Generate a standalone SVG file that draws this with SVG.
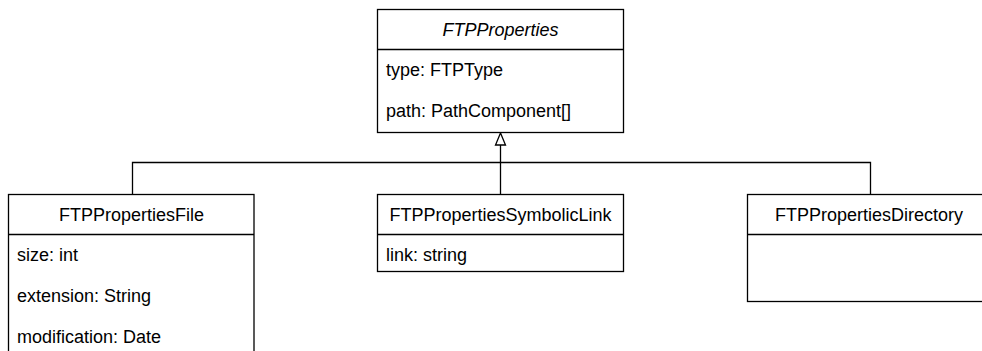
<svg xmlns="http://www.w3.org/2000/svg" width="982" height="351" viewBox="0 0 982 351">
  <style>
    .box { fill: #ffffff; stroke: #000000; stroke-width: 1.3; }
    .sep { stroke: #000000; stroke-width: 1.3; }
    .edge { fill: none; stroke: #000000; stroke-width: 1.3; }
    .title { font-family: "Liberation Sans", Arial, sans-serif; font-size: 18px; fill: #000000; text-anchor: middle; }
    .abstract { font-style: italic; }
    .attr { font-family: "Liberation Sans", Arial, sans-serif; font-size: 18px; fill: #000000; }
  </style>
  <rect width="982" height="351" fill="#ffffff"/>

  <!-- inheritance connectors -->
  <g id="connectors">
    <path class="edge" d="M132.5 194.5 V162.5 H870.5 V194.5"/>
    <path class="edge" d="M500.5 194.5 V145"/>
    <polygon class="box" points="500.5,133 495.5,145 505.5,145"/>
  </g>

  <!-- abstract base class -->
  <g id="FTPProperties">
    <rect class="box" x="377.5" y="9.5" width="246" height="123"/>
    <line class="sep" x1="377.5" y1="49.5" x2="623.5" y2="49.5"/>
    <text class="title abstract" x="500.5" y="36">FTPProperties</text>
    <text class="attr" x="386" y="76">type: FTPType</text>
    <text class="attr" x="386" y="117">path: PathComponent[]</text>
  </g>

  <g id="FTPPropertiesFile">
    <rect class="box" x="8.5" y="194.5" width="245.5" height="170"/>
    <line class="sep" x1="8.5" y1="234.5" x2="254" y2="234.5"/>
    <text class="title" x="131.5" y="221">FTPPropertiesFile</text>
    <text class="attr" x="17" y="261">size: int</text>
    <text class="attr" x="17" y="302">extension: String</text>
    <text class="attr" x="17" y="343">modification: Date</text>
  </g>

  <g id="FTPPropertiesSymbolicLink">
    <rect class="box" x="377.5" y="194.5" width="246" height="77"/>
    <line class="sep" x1="377.5" y1="234.5" x2="623.5" y2="234.5"/>
    <text class="title" x="500.5" y="221">FTPPropertiesSymbolicLink</text>
    <text class="attr" x="386" y="261">link: string</text>
  </g>

  <g id="FTPPropertiesDirectory">
    <rect class="box" x="747.5" y="194.5" width="246" height="107"/>
    <line class="sep" x1="747.5" y1="234.5" x2="993.5" y2="234.5"/>
    <text class="title" x="869" y="221">FTPPropertiesDirectory</text>
  </g>
</svg>
